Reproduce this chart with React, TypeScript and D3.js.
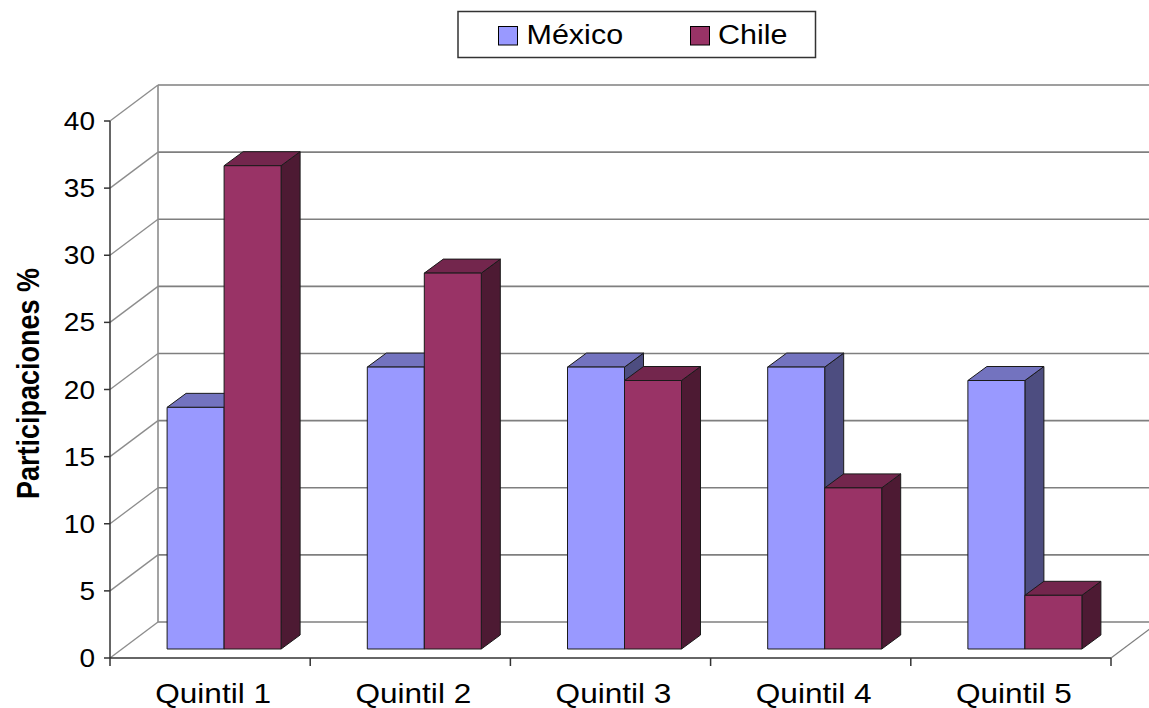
import React from "react";
import * as d3 from "d3";

// Participation by income quintile
const categories = ["Quintil 1", "Quintil 2", "Quintil 3", "Quintil 4", "Quintil 5"];
const seriesNames = ["México", "Chile"];
const mexicoValues = [18, 21, 21, 21, 20];
const chileValues = [36, 28, 20, 12, 4];
const yTicks = [0, 5, 10, 15, 20, 25, 30, 35, 40];

const W = 1149;
const H = 708;

// front plane of the box
const X0 = 110;
const X1 = 1111;
const Y0 = 658;
const Y40 = 121;
// depth of the box (floor / walls)
const DEPTH = { dx: 48, dy: -36 };
// bars sit a little behind the front plane
const BAR_SHIFT = { dx: 14, dy: -9 };
const BAR_DEPTH = { dx: 19, dy: -14 };
const BAR_W = 57;

const FONT = "'Liberation Sans', Arial, Helvetica, sans-serif";

const colors = [
  { front: "#9999FF", top: "#7373BF", side: "#4D4D80" },
  { front: "#993366", top: "#73264D", side: "#4D1A33" },
];

export default function App() {
  const y = d3.scaleLinear().domain([0, 40]).range([Y0, Y40]);
  const x = d3.scaleBand<string>().domain(categories).range([X0, X1]).padding(0);
  const sub = d3
    .scaleBand<string>()
    .domain(seriesNames)
    .range([-BAR_W, BAR_W]);

  const values = [mexicoValues, chileValues];
  const pts = (arr: [number, number][]) => arr.map((p) => p.join(",")).join(" ");

  const bars: React.ReactNode[] = [];
  categories.forEach((c, ci) => {
    const cx = (x(c) as number) + x.bandwidth() / 2 + BAR_SHIFT.dx;
    seriesNames.forEach((s, si) => {
      const v = values[si][ci];
      const left = cx + (sub(s) as number);
      const right = left + sub.bandwidth();
      const top = y(v) + BAR_SHIFT.dy;
      const bottom = y(0) + BAR_SHIFT.dy;
      const { dx, dy } = BAR_DEPTH;
      const col = colors[si];
      bars.push(
        <g key={c + s} stroke="#1a1a1a" strokeWidth={1} strokeLinejoin="round">
          <polygon
            points={pts([
              [right, top],
              [right + dx, top + dy],
              [right + dx, bottom + dy],
              [right, bottom],
            ])}
            fill={col.side}
          />
          <polygon
            points={pts([
              [left, top],
              [left + dx, top + dy],
              [right + dx, top + dy],
              [right, top],
            ])}
            fill={col.top}
          />
          <rect x={left} y={top} width={right - left} height={bottom - top} fill={col.front} />
        </g>
      );
    });
  });

  const xTickPositions = [...categories.map((c) => x(c) as number), X1];

  return (
    <svg
      width={W}
      height={H}
      style={{ position: "absolute", left: 0, top: 0, background: "#ffffff" }}
      fontFamily={FONT}
    >
      <rect x={0} y={0} width={W} height={H} fill="#ffffff" />

      {/* back wall gridlines */}
      {yTicks.map((t) => (
        <line
          key={"bg" + t}
          x1={X0 + DEPTH.dx}
          x2={X1 + DEPTH.dx + 10}
          y1={y(t) + DEPTH.dy}
          y2={y(t) + DEPTH.dy}
          stroke="#7f7f7f"
          strokeWidth={1.6}
        />
      ))}
      {/* left wall diagonals */}
      {yTicks.map((t) => (
        <line
          key={"lw" + t}
          x1={X0}
          x2={X0 + DEPTH.dx}
          y1={y(t)}
          y2={y(t) + DEPTH.dy}
          stroke="#8c8c8c"
          strokeWidth={1.3}
        />
      ))}
      {/* back-left edge */}
      <line
        x1={X0 + DEPTH.dx}
        x2={X0 + DEPTH.dx}
        y1={y(0) + DEPTH.dy}
        y2={y(40) + DEPTH.dy}
        stroke="#8c8c8c"
        strokeWidth={1.6}
      />
      {/* floor right edge */}
      <line
        x1={X1}
        y1={Y0}
        x2={X1 + DEPTH.dx}
        y2={Y0 + DEPTH.dy}
        stroke="#7f7f7f"
        strokeWidth={1.3}
      />

      {bars}

      {/* front axes */}
      <line x1={X0} x2={X0} y1={y(40)} y2={Y0} stroke="#333" strokeWidth={1.5} />
      <line x1={X0} x2={X1} y1={Y0} y2={Y0} stroke="#333" strokeWidth={1.5} />
      {yTicks.map((t) => (
        <line key={"yt" + t} x1={X0 - 6} x2={X0} y1={y(t)} y2={y(t)} stroke="#333" strokeWidth={1.5} />
      ))}
      {xTickPositions.map((px, i) => (
        <line key={"xt" + i} x1={px} x2={px} y1={Y0} y2={Y0 + 8} stroke="#333" strokeWidth={1.5} />
      ))}

      {/* y tick labels */}
      {yTicks.map((t) => (
        <text
          key={"yl" + t}
          transform={`translate(95,${y(t) + 9}) scale(1.12,1)`}
          textAnchor="end"
          fontSize={25}
          fill="#000"
        >
          {t}
        </text>
      ))}

      {/* category labels */}
      {categories.map((c) => (
        <text
          key={"cl" + c}
          transform={`translate(${(x(c) as number) + x.bandwidth() / 2 + 3},703) scale(1.17,1)`}
          textAnchor="middle"
          fontSize={27}
          fill="#000"
        >
          {c}
        </text>
      ))}

      {/* axis title */}
      <text
        transform={`translate(39,383.5) scale(1.15,1) rotate(-90)`}
        textAnchor="middle"
        fontSize={27}
        fontWeight="bold"
        fill="#000"
      >
        Participaciones %
      </text>

      {/* legend */}
      <g>
        <rect x={458} y={11.5} width={357.5} height={46} fill="#fff" stroke="#333" strokeWidth={1.5} />
        <rect x={498.5} y={26.5} width={19} height={18.5} fill={colors[0].front} stroke="#000" strokeWidth={1} />
        <text transform="translate(526.5,44.3) scale(1.13,1)" fontSize={27} fill="#000">
          {seriesNames[0]}
        </text>
        <rect x={690.5} y={26.5} width={19} height={18.5} fill={colors[1].front} stroke="#000" strokeWidth={1} />
        <text transform="translate(718,44.3) scale(1.13,1)" fontSize={27} fill="#000">
          {seriesNames[1]}
        </text>
      </g>
    </svg>
  );
}
